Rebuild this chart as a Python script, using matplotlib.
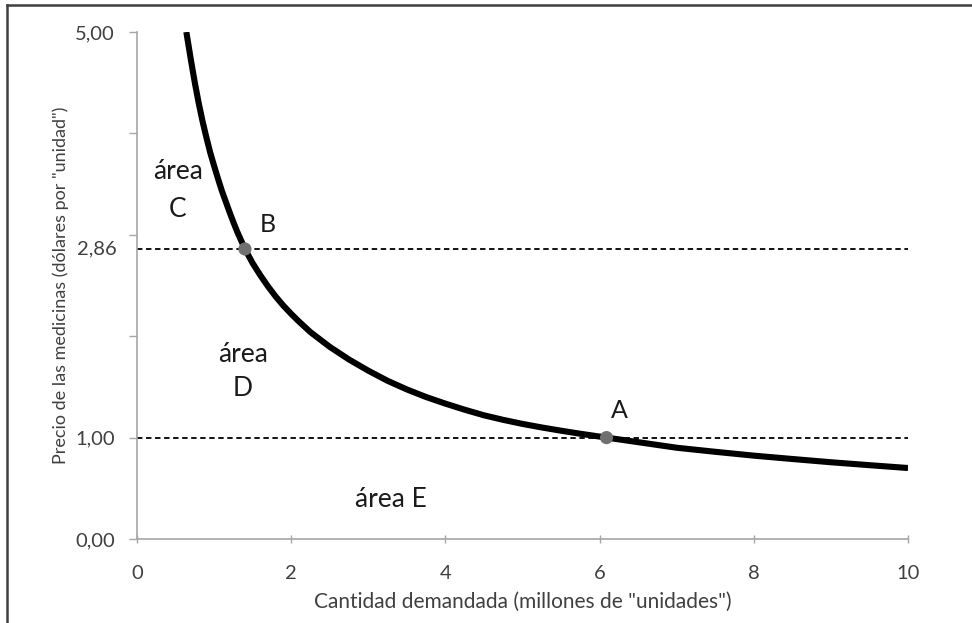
import matplotlib
matplotlib.use("Agg")
import matplotlib.pyplot as plt
from matplotlib.lines import Line2D

plt.rcParams['font.family'] = ['Lato', 'DejaVu Sans']

# Demand curve
quantity = [0.64, 0.70, 0.75, 0.80, 0.85, 0.90, 0.95, 1.00, 1.05, 1.10, 1.15, 1.20,
            1.25, 1.30, 1.35, 1.40, 1.45, 1.50, 1.60, 1.70, 1.80, 1.90, 2.00, 2.10,
            2.25, 2.50, 2.75, 3.00, 3.25, 3.50, 3.75, 4.00, 4.25, 4.50, 4.75, 5.00,
            5.25, 5.50, 5.75, 6.09, 6.50, 7.00, 7.50, 8.00, 8.50, 9.00, 9.50, 10.0]
price = [5.00, 4.72, 4.50, 4.30, 4.12, 3.96, 3.81, 3.68, 3.555, 3.435, 3.33, 3.225,
         3.125, 3.03, 2.945, 2.86, 2.79, 2.72, 2.60, 2.49, 2.39, 2.30, 2.22, 2.145,
         2.04, 1.895, 1.77, 1.66, 1.56, 1.475, 1.40, 1.335, 1.275, 1.22, 1.175, 1.135,
         1.10, 1.068, 1.038, 1.00, 0.955, 0.90, 0.86, 0.822, 0.789, 0.757, 0.728, 0.70]

point_names = ['B', 'A']
point_x = [1.40, 6.09]
point_y = [2.86, 1.00]
point_label_x = [1.70, 6.25]
point_label_y = [3.10, 1.27]

ref_prices = [2.86, 1.00]
ref_labels = ['2,86', '1,00']

x_ticks = [0, 2, 4, 6, 8, 10]
y_ticks = [0, 1, 2, 3, 4, 5]
y_tick_labels = ['0,00', '1,00', '', '', '', '5,00']

area_labels = ['área', 'C', 'área', 'D', 'área E']
area_x = [0.53, 0.53, 1.375, 1.375, 3.29]
area_y = [3.62, 3.245, 1.815, 1.48, 0.385]

fig = plt.figure(figsize=(9.72, 6.23), dpi=100)
ax = fig.add_axes([137/972, 1-539/623, (908-137)/972, (539-32)/623])

ax.plot(quantity, price, color='black', lw=4.4, solid_capstyle='butt',
        solid_joinstyle='round', zorder=3)
for yv in ref_prices:
    ax.plot([0, 10], [yv, yv], color='black', lw=1.3, ls=(0, (3, 2)), zorder=2)
ax.scatter(point_x, point_y, s=90, color='#707070', zorder=4, edgecolors='none')

for n, lx, ly in zip(point_names, point_label_x, point_label_y):
    ax.text(lx, ly, n, fontsize=18, ha='center', va='center', color='#1a1a1a')

for t, xx, yy in zip(area_labels, area_x, area_y):
    ax.text(xx, yy, t, fontsize=19, ha='center', va='center', color='#1a1a1a')

ax.set_xlim(0, 10)
ax.set_ylim(0, 5)
ax.set_xticks(x_ticks)
ax.set_xticklabels([str(v) for v in x_ticks])
ax.set_yticks(y_ticks)
ax.set_yticklabels(y_tick_labels)
ax.text(-0.026, 2.86, ref_labels[0], transform=ax.get_yaxis_transform(), ha='right',
        va='center', fontsize=14.5, color='#404040')

for s in ['top', 'right']:
    ax.spines[s].set_visible(False)
for s in ['left', 'bottom']:
    ax.spines[s].set_color('#a6a6a6')
    ax.spines[s].set_linewidth(1.2)
ax.tick_params(axis='both', colors='#a6a6a6', labelcolor='#404040', labelsize=14.5,
               length=6, width=1.0)
ax.tick_params(axis='y', pad=10)
ax.tick_params(axis='x', direction='inout', pad=16)

ax.set_xlabel('Cantidad demandada (millones de "unidades")', fontsize=15,
              color='#404040', labelpad=7)
ax.set_ylabel('Precio de las medicinas (dólares por "unidad")', fontsize=13,
              color='#404040', labelpad=4)

# outer frame (top and left edges)
fig.add_artist(Line2D([7/972, 1.0], [1-5/623, 1-5/623], transform=fig.transFigure,
                      color='#404040', lw=1.8))
fig.add_artist(Line2D([7/972, 7/972], [0, 1-5/623], transform=fig.transFigure,
                      color='#404040', lw=1.8))

fig.savefig('out.png', dpi=100)
